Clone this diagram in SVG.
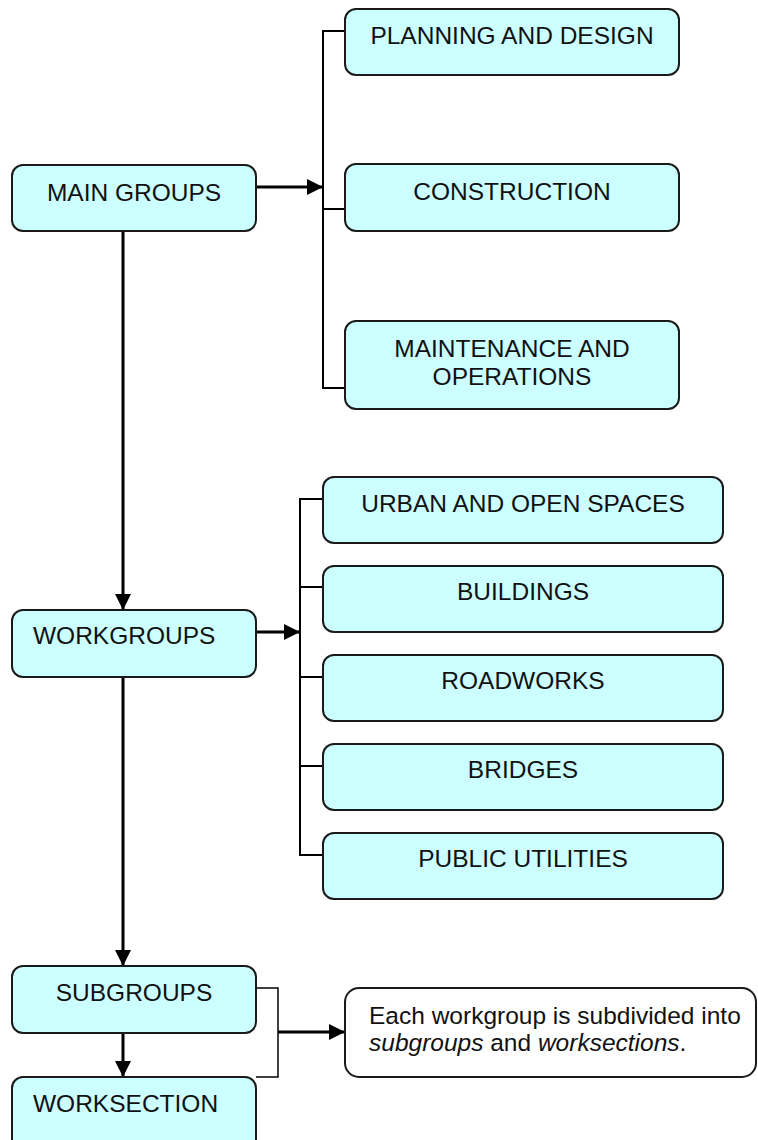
<svg xmlns="http://www.w3.org/2000/svg" width="758" height="1140" viewBox="0 0 758 1140">
<style>
.box{fill:#CCFFFF;stroke:#1a1a1a;stroke-width:2}
.note{fill:#FFFFFF;stroke:#1a1a1a;stroke-width:2}
.t{font-family:"Liberation Sans",Arial,sans-serif;font-size:24.5px;fill:#111}
.c{text-anchor:middle}
.arrow{fill:none;stroke:#000;stroke-width:3;marker-end:url(#ah)}
.br{fill:none;stroke:#000;stroke-width:2}
.thin{fill:none;stroke:#000;stroke-width:1.5}
</style>
<defs>
<marker id="ah" viewBox="0 0 10 10" refX="10" refY="5" markerUnits="userSpaceOnUse" markerWidth="16" markerHeight="16" orient="auto">
<path d="M0,0 L10,5 L0,10 z" fill="#000"/>
</marker>
</defs>
<rect width="758" height="1140" fill="#fff"/>
<g id="connectors">
<path class="arrow" d="M256,187 H323"/>
<path class="br" d="M345,31 H323 V388 H345 M323,209 H345"/>
<path class="arrow" d="M123,231 V610"/>
<path class="arrow" d="M256,632 H300"/>
<path class="br" d="M323,499 H300 V855 H323 M300,587 H323 M300,677 H323 M300,766 H323"/>
<path class="arrow" d="M123,677 V966"/>
<path class="arrow" d="M123,1033 V1077"/>
<path class="thin" d="M256,988 H278 V1077 H256"/>
<path class="arrow" d="M278,1032 H345"/>
</g>
<g id="main-groups"><rect class="box" x="12" y="165" width="244" height="66" rx="11"/><text class="t c" x="134" y="201">MAIN GROUPS</text></g>
<g id="planning"><rect class="box" x="345" y="9" width="334" height="66" rx="11"/><text class="t c" x="512" y="44">PLANNING AND DESIGN</text></g>
<g id="construction"><rect class="box" x="345" y="164" width="334" height="67" rx="11"/><text class="t c" x="512" y="200">CONSTRUCTION</text></g>
<g id="maintenance"><rect class="box" x="345" y="321" width="334" height="88" rx="11"/><text class="t c" x="512" y="357">MAINTENANCE AND</text><text class="t c" x="512" y="385">OPERATIONS</text></g>
<g id="workgroups"><rect class="box" x="12" y="610" width="244" height="67" rx="11"/><text class="t" x="33" y="644">WORKGROUPS</text></g>
<g id="urban"><rect class="box" x="323" y="477" width="400" height="66" rx="11"/><text class="t c" x="523" y="512">URBAN AND OPEN SPACES</text></g>
<g id="buildings"><rect class="box" x="323" y="566" width="400" height="66" rx="11"/><text class="t c" x="523" y="600">BUILDINGS</text></g>
<g id="roadworks"><rect class="box" x="323" y="655" width="400" height="66" rx="11"/><text class="t c" x="523" y="689">ROADWORKS</text></g>
<g id="bridges"><rect class="box" x="323" y="744" width="400" height="66" rx="11"/><text class="t c" x="523" y="778">BRIDGES</text></g>
<g id="public-utilities"><rect class="box" x="323" y="833" width="400" height="66" rx="11"/><text class="t c" x="523" y="867">PUBLIC UTILITIES</text></g>
<g id="subgroups"><rect class="box" x="12" y="966" width="244" height="67" rx="11"/><text class="t c" x="134" y="1001">SUBGROUPS</text></g>
<g id="worksection"><rect class="box" x="12" y="1077" width="244" height="80" rx="11"/><text class="t" x="33" y="1112">WORKSECTION</text></g>
<g id="note"><rect class="note" x="345" y="988" width="411" height="89" rx="14"/><text class="t" x="369" y="1024">Each workgroup is subdivided into</text><text class="t" x="369" y="1051"><tspan font-style="italic">subgroups</tspan> and <tspan font-style="italic">worksections</tspan>.</text></g>
</svg>
